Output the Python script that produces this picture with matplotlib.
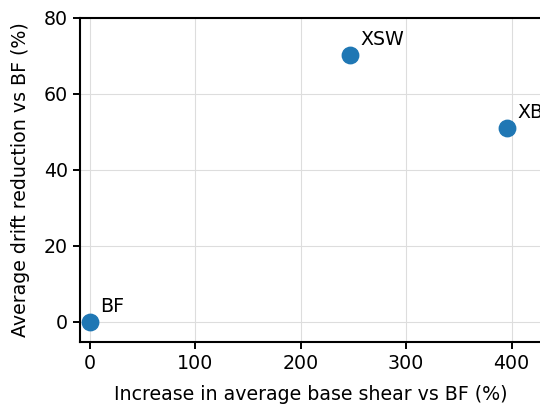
import matplotlib.pyplot as plt

# data
labels = ['BF', 'XSW', 'XB']
shear_increase = [0, 247, 396]
drift_reduction = [0, 70.2, 51]

fig = plt.figure(figsize=(5.4, 4.05), dpi=100)
ax = fig.add_axes([0.148, 0.156, 0.856, 0.80])

ax.scatter(shear_increase, drift_reduction, s=140, color='#1f77b4', zorder=3)
for lab, x, y in zip(labels, shear_increase, drift_reduction):
    ax.annotate(lab, (x, y), xytext=(7, 4), textcoords='offset points',
                fontsize=13.7, va='bottom', ha='left')

ax.set_xlim(-9.5, 429)
ax.set_ylim(-5.3, 80)
ax.set_xticks([0, 100, 200, 300, 400])
ax.set_yticks([0, 20, 40, 60, 80])
ax.grid(True, color='#dddddd', linewidth=0.8)
ax.set_axisbelow(True)
ax.tick_params(labelsize=13.7, width=1.4, length=5)
for side in ['left', 'bottom', 'top', 'right']:
    ax.spines[side].set_linewidth(1.5)

ax.set_xlabel('Increase in average base shear vs BF (%)', fontsize=13.7, labelpad=9)
ax.set_ylabel('Average drift reduction vs BF (%)', fontsize=13.7, labelpad=10)

fig.savefig('out.png', dpi=100)
